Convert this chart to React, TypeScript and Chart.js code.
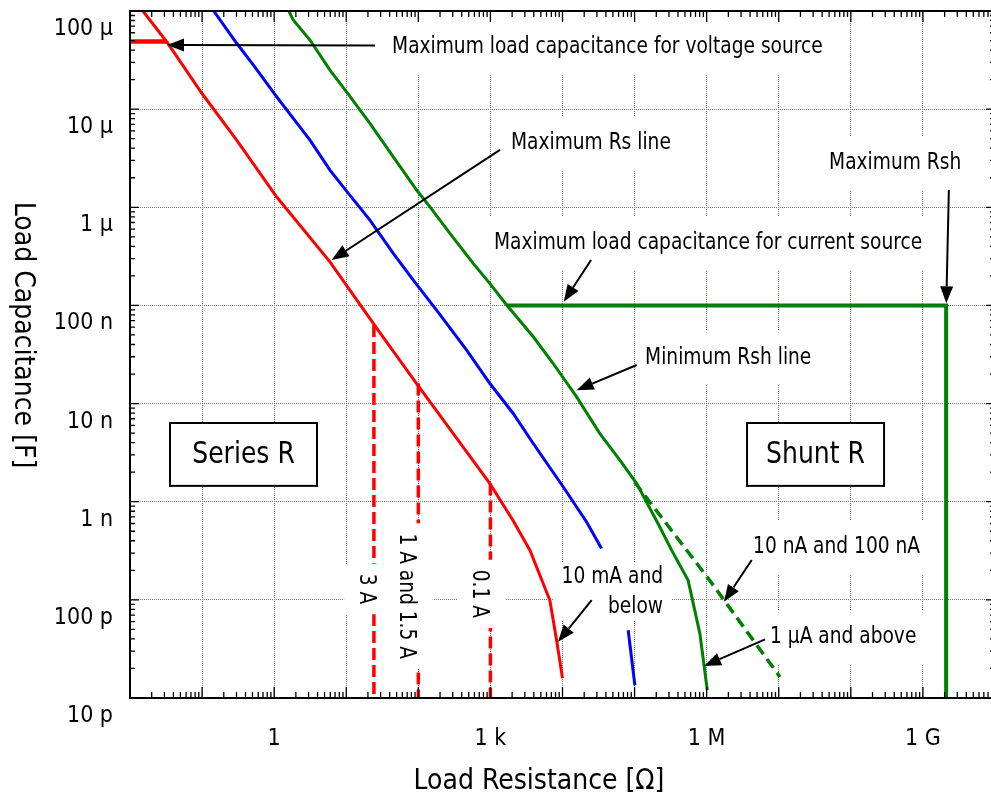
import React, { useEffect, useRef } from 'react';
import { Chart, registerables } from 'chart.js';

Chart.register(...registerables);

const FONT = '"Liberation Sans Narrow", "DejaVu Sans Condensed", "Arial Narrow", sans-serif';

// ---------- axes ----------
const xDecades = [1e-2, 1e-1, 1, 1e1, 1e2, 1e3, 1e4, 1e5, 1e6, 1e7, 1e8, 1e9, 1e10];
const xLabelExps = [0, 3, 6, 9];
const xLabelTexts = ['1', '1 k', '1 M', '1 G'];
const yDecades = [1e-11, 1e-10, 1e-9, 1e-8, 1e-7, 1e-6, 1e-5, 1e-4];
const yLabelTexts = ['10 p', '100 p', '1 n', '10 n', '100 n', '1 µ', '10 µ', '100 µ'];
const xTitle = 'Load Resistance [Ω]';
const yTitle = 'Load Capacitance [F]';

// ---------- series (R in ohm, C in farad) ----------
// maximum load capacitance for voltage source
const vLimitR = [0.01, 0.0323];
const vLimitC = [4.9e-5, 4.9e-5];
// Maximum Rs line (red)
const maxRsR = [0.0151, 0.0323, 0.0986, 0.302, 1.08, 5.94, 26.4, 94.6, 302, 984, 2050, 3530, 6680, 8280, 10000];
const maxRsC = [1.0e-4, 4.86e-5, 1.46e-5, 4.84e-6, 1.28e-6, 2.78e-7, 5.87e-8, 1.6e-8, 4.99e-9, 1.53e-9, 6.47e-10, 3.21e-10, 9.9e-11, 3.87e-11, 1.59e-11];
// blue line
const blueR = [0.145, 0.302, 0.513, 1.08, 1.84, 3.14, 5.94, 11.2, 21.3, 44.9, 85.1, 179, 468, 984, 2070, 3930, 10200, 21600, 34800];
const blueC = [1e-4, 4.69e-5, 2.82e-5, 1.34e-5, 8.05e-6, 4.84e-6, 2.39e-6, 1.33e-6, 7.4e-7, 3.39e-7, 1.81e-7, 8.95e-8, 3.5e-8, 1.6e-8, 7.93e-9, 3.92e-9, 1.42e-9, 6.22e-10, 3.33e-10];
const blueTailR = [81500, 101000];
const blueTailC = [4.9e-11, 1.35e-11];
// Minimum Rsh line (green, 1 uA and above)
const minRshR = [1.6, 1.84, 3.14, 5.94, 10.1, 21.3, 44.9, 94.6, 145, 274, 577, 984, 1680, 3930, 7430, 15700, 33000, 62500, 107000, 224000, 326000, 553000, 805000, 1.02e6];
const minRshC = [1e-4, 8.09e-5, 5.06e-5, 2.5e-5, 1.5e-5, 7.16e-6, 3.27e-6, 1.5e-6, 1.01e-6, 5.42e-7, 2.68e-7, 1.67e-7, 1.01e-7, 4.79e-8, 2.56e-8, 1.17e-8, 4.95e-9, 2.65e-9, 1.53e-9, 5.53e-10, 3.21e-10, 1.58e-10, 4.53e-11, 1.2e-11];
// 10 nA and 100 nA (green dashed)
const lowIR = [1.0e5, 1.1e6, 1.04e7];
const lowIC = [1.59e-9, 1.58e-10, 1.64e-11];
// maximum load capacitance for current source / maximum Rsh
const iLimitR = [1680, 2.1e9, 2.1e9];
const iLimitC = [1e-7, 1e-7, 1e-11];
// range lines (red dashed)
const rangeR = [24.2, 100, 1000];
const rangeTopC = [6.3e-8, 1.6e-8, 1.53e-9];
const rangeBottomC = 1e-11;
const rangeLabels = ['3 A', '1 A and 1.5 A', '0.1 A'];
const rangeLabelC = [1.29e-10, 1.09e-10, 1.15e-10];

// ---------- annotations (anchored in data space) ----------
const notes = [
  { text: 'Maximum load capacitance for voltage source', x: 43.2, y: 4.29e-5, align: 'left' },
  { text: 'Maximum Rs line', x: 1930, y: 4.52e-6, align: 'left' },
  { text: 'Maximum load capacitance for current source', x: 1122, y: 4.33e-7, align: 'left' },
  { text: 'Maximum Rsh', x: 4.99e7, y: 2.82e-6, align: 'left' },
  { text: 'Minimum Rsh line', x: 1.4e5, y: 2.91e-8, align: 'left' },
  { text: '10 mA and\nbelow', x: 2.48e5, y: 1.71e-10, align: 'right' },
  { text: '10 nA and 100 nA', x: 4.4e6, y: 3.45e-10, align: 'left' },
  { text: '1 µA and above', x: 7.57e6, y: 4.18e-11, align: 'left' },
];
const arrows = [
  { from: [25.1, 4.45e-5], to: [0.0326, 4.5e-5] },
  { from: [1358, 3.84e-6], to: [6.28, 2.9e-7] },
  { from: [24900, 2.9e-7], to: [10400, 1.09e-7] },
  { from: [2.29e9, 1.5e-6], to: [2.11e9, 1.05e-7] },
  { from: [1.07e5, 2.47e-8], to: [15700, 1.37e-8] },
  { from: [25400, 9.95e-11], to: [8670, 3.74e-11] },
  { from: [4.22e6, 2.55e-10], to: [1.74e6, 9.57e-11] },
  { from: [6.46e6, 3.96e-11], to: [9.19e5, 2.12e-11] },
];
const regions = [
  { text: 'Series R', x1: 0.0359, x2: 3.93, y1: 6.34e-9, y2: 1.45e-9 },
  { text: 'Shunt R', x1: 3.63e6, x2: 2.89e8, y1: 6.34e-9, y2: 1.45e-9 },
];

// ---------- styles / layout ----------
const RED = '#ff0000';
const BLUE = '#0000ff';
const GREEN = '#008000';
const ANN_SIZE = 23;
const TEXT_SX = 0.9; // horizontal condensing of annotation text
const LINE_H = 30;
const rangeLabelShift = [-14, -18, -17];

const pts = (xs: number[], ys: number[]) => xs.map((x, i) => ({ x, y: ys[i] }));

function drawArrow(ctx: CanvasRenderingContext2D, x1: number, y1: number, x2: number, y2: number) {
  const a = Math.atan2(y2 - y1, x2 - x1);
  const L = 17, W = 6.5;
  const bx = x2 - L * Math.cos(a), by = y2 - L * Math.sin(a);
  ctx.beginPath();
  ctx.moveTo(x1, y1);
  ctx.lineTo(bx, by);
  ctx.stroke();
  ctx.beginPath();
  ctx.moveTo(x2, y2);
  ctx.lineTo(bx + W * Math.sin(a), by - W * Math.cos(a));
  ctx.lineTo(bx - W * Math.sin(a), by + W * Math.cos(a));
  ctx.closePath();
  ctx.fill();
}

function condensedText(ctx: CanvasRenderingContext2D, t: string, x: number, y: number, sx: number) {
  ctx.save();
  ctx.translate(x, y);
  ctx.scale(sx, 1);
  ctx.fillText(t, 0, 0);
  ctx.restore();
}

const decorPlugin = {
  id: 'decor',
  beforeDatasetsDraw(chart: any) {
    const { ctx, chartArea: ca } = chart;
    const X = (v: number) => chart.scales.x.getPixelForValue(v);
    const Y = (v: number) => chart.scales.y.getPixelForValue(v);
    ctx.save();
    ctx.beginPath();
    ctx.rect(ca.left, ca.top, ca.right - ca.left, ca.bottom - ca.top);
    ctx.clip();
    ctx.font = `${ANN_SIZE}px ${FONT}`;
    ctx.fillStyle = '#fff';
    for (const n of notes) {
      const lines = n.text.split('\n');
      const w = Math.max(...lines.map((l) => ctx.measureText(l).width)) * TEXT_SX;
      const px = X(n.x), py = Y(n.y);
      const left = n.align === 'right' ? px - w : px;
      const padY = lines.length > 1 ? 14 : 27;
      ctx.fillRect(left - 8, py - padY, w + 16, (lines.length - 1) * LINE_H + 2 * padY);
    }
    ctx.restore();
  },
  afterDatasetsDraw(chart: any) {
    const { ctx, chartArea: ca } = chart;
    const xs = chart.scales.x, ys = chart.scales.y;
    const X = (v: number) => xs.getPixelForValue(v);
    const Y = (v: number) => ys.getPixelForValue(v);
    ctx.save();
    ctx.font = `${ANN_SIZE}px ${FONT}`;

    // rotated range labels
    rangeLabels.forEach((t, i) => {
      const cx = X(rangeR[i]) + rangeLabelShift[i];
      const cy = Y(rangeLabelC[i]);
      ctx.save();
      ctx.translate(cx, cy);
      ctx.rotate(Math.PI / 2);
      const w = ctx.measureText(t).width * TEXT_SX;
      const capH = ANN_SIZE * 0.72;
      ctx.fillStyle = '#fff';
      ctx.fillRect(-w / 2 - 10, -capH / 2 - 24, w + 20, 48);
      ctx.fillStyle = '#000';
      ctx.textAlign = 'center';
      ctx.textBaseline = 'alphabetic';
      condensedText(ctx, t, 0, 0, TEXT_SX);
      ctx.restore();
    });

    // text notes
    ctx.fillStyle = '#000';
    ctx.textBaseline = 'middle';
    for (const n of notes) {
      const lines = n.text.split('\n');
      const px = X(n.x), py = Y(n.y);
      ctx.textAlign = n.align === 'right' ? 'right' : 'left';
      lines.forEach((l, k) => condensedText(ctx, l, px, py + k * LINE_H, TEXT_SX));
    }

    // arrows
    ctx.strokeStyle = '#000';
    ctx.fillStyle = '#000';
    ctx.lineWidth = 2;
    for (const a of arrows) {
      drawArrow(ctx, X(a.from[0]), Y(a.from[1]), X(a.to[0]), Y(a.to[1]));
    }

    // region boxes
    ctx.font = `30px ${FONT}`;
    ctx.textAlign = 'center';
    ctx.textBaseline = 'middle';
    for (const r of regions) {
      const x1 = X(r.x1), x2 = X(r.x2), y1 = Y(r.y1), y2 = Y(r.y2);
      ctx.fillStyle = '#fff';
      ctx.fillRect(x1, y1, x2 - x1, y2 - y1);
      ctx.lineWidth = 2;
      ctx.strokeStyle = '#000';
      ctx.strokeRect(x1, y1, x2 - x1, y2 - y1);
      ctx.fillStyle = '#000';
      condensedText(ctx, r.text, (x1 + x2) / 2, (y1 + y2) / 2 + 1, 0.93);
    }

    // frame
    ctx.strokeStyle = '#000';
    ctx.lineWidth = 2;
    ctx.strokeRect(ca.left, ca.top, ca.right - ca.left, ca.bottom - ca.top);

    // minor / major tick marks, inward on all sides
    ctx.lineWidth = 1.3;
    ctx.beginPath();
    for (let e = -2; e <= 10; e++) {
      for (let m = 1; m <= 9; m++) {
        const v = m * Math.pow(10, e);
        if (v > xs.max * 1.0001) continue;
        const p = X(v);
        const len = m === 1 ? 11 : 6;
        ctx.moveTo(p, ca.bottom);
        ctx.lineTo(p, ca.bottom - len);
        ctx.moveTo(p, ca.top);
        ctx.lineTo(p, ca.top + len);
      }
    }
    for (let e = -11; e <= -4; e++) {
      for (let m = 1; m <= 9; m++) {
        const v = m * Math.pow(10, e);
        if (v > ys.max * 1.0001) continue;
        const p = Y(v);
        const len = m === 1 ? 9 : 5;
        ctx.moveTo(ca.left, p);
        ctx.lineTo(ca.left + len, p);
        ctx.moveTo(ca.right, p);
        ctx.lineTo(ca.right - len, p);
      }
    }
    ctx.stroke();
    ctx.restore();
  },
  afterDraw(chart: any) {
    const { ctx } = chart;
    ctx.save();
    ctx.fillStyle = '#000';
    ctx.font = `28px ${FONT}`;
    ctx.textAlign = 'center';
    ctx.textBaseline = 'alphabetic';
    ctx.fillText(xTitle, 539, 789);
    ctx.translate(15, 335);
    ctx.rotate(Math.PI / 2);
    ctx.fillText(yTitle, 0, 0);
    ctx.restore();
  },
};

export default function App() {
  const ref = useRef<HTMLCanvasElement>(null);
  useEffect(() => {
    if (!ref.current) return;
    const line = (data: any, color: string, width: number, dash?: number[]) => ({
      data,
      borderColor: color,
      backgroundColor: color,
      borderWidth: width,
      borderDash: dash || [],
      pointRadius: 0,
      showLine: true,
      tension: 0,
      fill: false,
    });
    const datasets: any[] = [
      line(pts(vLimitR, vLimitC), RED, 4.5),
      line(pts(maxRsR, maxRsC), RED, 3),
      line(pts(blueR, blueC), BLUE, 3),
      line(pts(blueTailR, blueTailC), BLUE, 3),
      line(pts(minRshR, minRshC), GREEN, 3),
      line(pts(lowIR, lowIC), GREEN, 3.5, [11, 6]),
      line(pts(iLimitR, iLimitC), GREEN, 4),
      ...rangeR.map((r, i) => line([{ x: r, y: rangeTopC[i] }, { x: r, y: rangeBottomC }], RED, 3.5, [12, 5])),
    ];
    const tickFont = { family: FONT, size: 23 };
    const chart = new Chart(ref.current, {
      type: 'scatter',
      data: { datasets },
      options: {
        animation: false,
        responsive: true,
        maintainAspectRatio: false,
        layout: { padding: { top: 11, right: 5, left: 0, bottom: 0 } },
        plugins: { legend: { display: false }, tooltip: { enabled: false } },
        events: [],
        scales: {
          x: {
            type: 'logarithmic',
            position: 'bottom',
            min: 1e-2,
            max: 1e10,
            afterBuildTicks: (s: any) => {
              s.ticks = xDecades.map((v) => ({ value: v }));
            },
            afterFit: (s: any) => {
              s.height = 94;
              s.paddingLeft = 0;
              s.paddingRight = 0;
            },
            grid: { color: '#777', lineWidth: 1, drawTicks: false },
            border: { display: false, dash: [1, 1] },
            ticks: {
              autoSkip: false,
              maxRotation: 0,
              minRotation: 0,
              padding: 27,
              color: '#000',
              font: tickFont,
              callback: (v: any) => {
                const e = Math.round(Math.log10(Number(v)));
                const k = xLabelExps.indexOf(e);
                return k >= 0 ? xLabelTexts[k] : '';
              },
            },
          },
          y: {
            type: 'logarithmic',
            position: 'left',
            min: 1e-11,
            max: 1e-4,
            afterBuildTicks: (s: any) => {
              s.ticks = yDecades.map((v) => ({ value: v }));
            },
            afterFit: (s: any) => {
              s.width = 130;
              s.paddingTop = 0;
              s.paddingBottom = 0;
            },
            grid: { color: '#777', lineWidth: 1, drawTicks: false },
            border: { display: false, dash: [1, 1] },
            ticks: {
              autoSkip: false,
              padding: 17,
              labelOffset: 18,
              color: '#000',
              font: tickFont,
              callback: (v: any) => {
                const e = Math.round(Math.log10(Number(v)));
                return yLabelTexts[e + 11] ?? '';
              },
            },
          },
        },
      },
      plugins: [decorPlugin],
    } as any);
    return () => chart.destroy();
  }, []);
  return (
    <div style={{ position: 'fixed', left: 0, top: 0, width: 991, height: 792, overflow: 'hidden', background: '#fff' }}>
      <div style={{ position: 'relative', width: 1000, height: 792 }}>
        <canvas ref={ref} />
      </div>
    </div>
  );
}
